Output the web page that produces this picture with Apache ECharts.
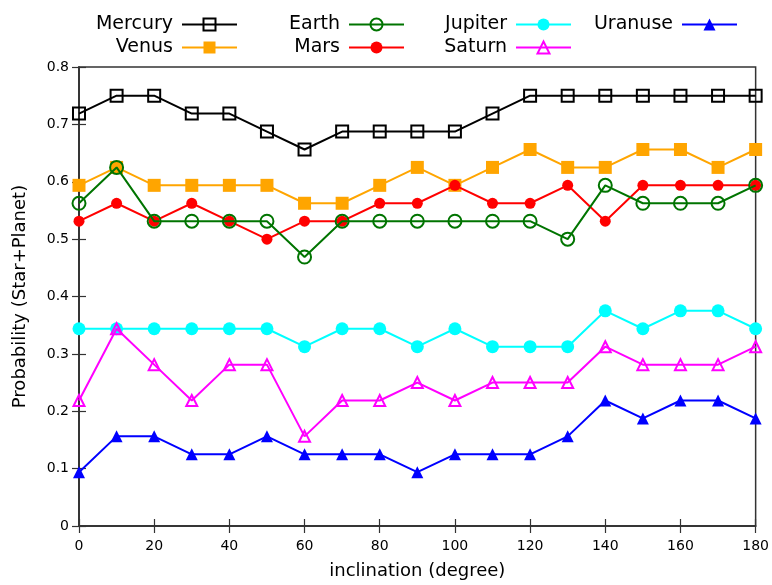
<!DOCTYPE html>
<html>
<head>
<meta charset="utf-8">
<script src="https://cdn.jsdelivr.net/npm/echarts@6/dist/echarts.min.js"></script>
<style>
  html, body { margin: 0; padding: 0; background: #fff; }
  #chart { width: 772px; height: 585px; }
</style>
</head>
<body>
<div id="chart"></div>
<script>
// Inclination angles (degrees)
var inclination = [0, 10, 20, 30, 40, 50, 60, 70, 80, 90, 100, 110, 120, 130, 140, 150, 160, 170, 180];

// Detection probability per planet
var mercury = [0.71875, 0.75, 0.75, 0.71875, 0.71875, 0.6875, 0.65625, 0.6875, 0.6875, 0.6875, 0.6875, 0.71875, 0.75, 0.75, 0.75, 0.75, 0.75, 0.75, 0.75];
var venus   = [0.59375, 0.625, 0.59375, 0.59375, 0.59375, 0.59375, 0.5625, 0.5625, 0.59375, 0.625, 0.59375, 0.625, 0.65625, 0.625, 0.625, 0.65625, 0.65625, 0.625, 0.65625];
var earth   = [0.5625, 0.625, 0.53125, 0.53125, 0.53125, 0.53125, 0.46875, 0.53125, 0.53125, 0.53125, 0.53125, 0.53125, 0.53125, 0.5, 0.59375, 0.5625, 0.5625, 0.5625, 0.59375];
var mars    = [0.53125, 0.5625, 0.53125, 0.5625, 0.53125, 0.5, 0.53125, 0.53125, 0.5625, 0.5625, 0.59375, 0.5625, 0.5625, 0.59375, 0.53125, 0.59375, 0.59375, 0.59375, 0.59375];
var jupiter = [0.34375, 0.34375, 0.34375, 0.34375, 0.34375, 0.34375, 0.3125, 0.34375, 0.34375, 0.3125, 0.34375, 0.3125, 0.3125, 0.3125, 0.375, 0.34375, 0.375, 0.375, 0.34375];
var saturn  = [0.21875, 0.34375, 0.28125, 0.21875, 0.28125, 0.28125, 0.15625, 0.21875, 0.21875, 0.25, 0.21875, 0.25, 0.25, 0.25, 0.3125, 0.28125, 0.28125, 0.28125, 0.3125];
var uranuse = [0.09375, 0.15625, 0.15625, 0.125, 0.125, 0.15625, 0.125, 0.125, 0.125, 0.09375, 0.125, 0.125, 0.125, 0.15625, 0.21875, 0.1875, 0.21875, 0.21875, 0.1875];

var FONT = 'DejaVu Sans';

function pairs(ys) {
  return inclination.map(function (x, i) { return [x, ys[i]]; });
}

// hollow markers keep a transparent interior so crossing lines stay visible
function line(name, ys, color, symbol, size, z, hollow) {
  return {
    name: name,
    type: 'line',
    data: pairs(ys),
    symbol: symbol,
    symbolSize: size,
    showAllSymbol: true,
    z: z,
    lineStyle: { color: color, width: 2 },
    itemStyle: {
      color: hollow ? 'rgba(255,255,255,0)' : color,
      borderColor: color,
      borderWidth: hollow ? 2 : 0
    },
    emphasis: { disabled: true },
    animation: false
  };
}

var series = [
  line('Mercury', mercury, '#000000', 'rect', 12, 10, true),
  line('Venus', venus, '#FFA500', 'rect', 13, 4, false),
  line('Mars', mars, '#FF0000', 'circle', 11, 5, false),
  line('Earth', earth, '#007400', 'circle', 13, 6, true),
  line('Jupiter', jupiter, '#00FFFF', 'circle', 13, 4, false),
  line('Saturn', saturn, '#FF00FF', 'triangle', 11, 5, true),
  line('Uranuse', uranuse, '#0000FF', 'triangle', 12, 6, false)
];

function legendCol(names, right) {
  return {
    data: names,
    orient: 'vertical',
    right: right,
    top: 10,
    align: 'right',
    itemWidth: 55,
    itemHeight: 15,
    itemGap: 4,
    textStyle: { fontFamily: FONT, fontSize: 19, color: '#000', padding: [0, 4, 0, 0] },
    selectedMode: false,
    inactiveColor: '#000'
  };
}

var chart = echarts.init(document.getElementById('chart'), null, { renderer: 'canvas' });
chart.setOption({
  backgroundColor: '#ffffff',
  animation: false,
  legend: [
    legendCol(['Mercury', 'Venus'], 772 - 243),
    legendCol(['Earth', 'Mars'], 772 - 410),
    legendCol(['Jupiter', 'Saturn'], 772 - 577),
    legendCol(['Uranuse'], 772 - 743)
  ],
  grid: {
    left: 79, right: 15, top: 67, bottom: 56,
    show: true, borderColor: '#333', borderWidth: 1.5, backgroundColor: 'transparent'
  },
  xAxis: [{
    type: 'value', min: 0, max: 180, interval: 20,
    name: 'inclination (degree)', nameLocation: 'middle', nameGap: 36,
    nameTextStyle: { fontFamily: FONT, fontSize: 18, color: '#000' },
    axisLine: { show: true, lineStyle: { color: '#333', width: 1.5 } },
    axisTick: { show: true, inside: true, length: 7, lineStyle: { color: '#333', width: 1.2 } },
    axisLabel: { fontFamily: FONT, fontSize: 14, color: '#000', margin: 13 },
    splitLine: { show: false }
  }, {
    type: 'value', min: 0, max: 180, interval: 20, position: 'top',
    axisLine: { show: true, lineStyle: { color: '#333', width: 1.5 } },
    axisTick: { show: true, inside: true, length: 7, lineStyle: { color: '#333', width: 1.2 } },
    axisLabel: { show: false },
    splitLine: { show: false }
  }],
  yAxis: [{
    type: 'value', min: 0, max: 0.8, interval: 0.1,
    name: 'Probability (Star+Planet)', nameLocation: 'middle', nameGap: 50,
    nameTextStyle: { fontFamily: FONT, fontSize: 18, color: '#000' },
    axisLine: { show: true, lineStyle: { color: '#333', width: 1.5 } },
    axisTick: { show: true, inside: true, length: 7, lineStyle: { color: '#333', width: 1.2 } },
    axisLabel: { fontFamily: FONT, fontSize: 14, color: '#000', margin: 10,
      formatter: function (v) { return v === 0 ? '0' : v.toFixed(1); } },
    splitLine: { show: false }
  }, {
    type: 'value', min: 0, max: 0.8, interval: 0.1, position: 'right',
    axisLine: { show: true, lineStyle: { color: '#333', width: 1.5 } },
    axisTick: { show: true, inside: true, length: 7, lineStyle: { color: '#333', width: 1.2 } },
    axisLabel: { show: false },
    splitLine: { show: false }
  }],
  series: series
});
</script>
</body>
</html>
